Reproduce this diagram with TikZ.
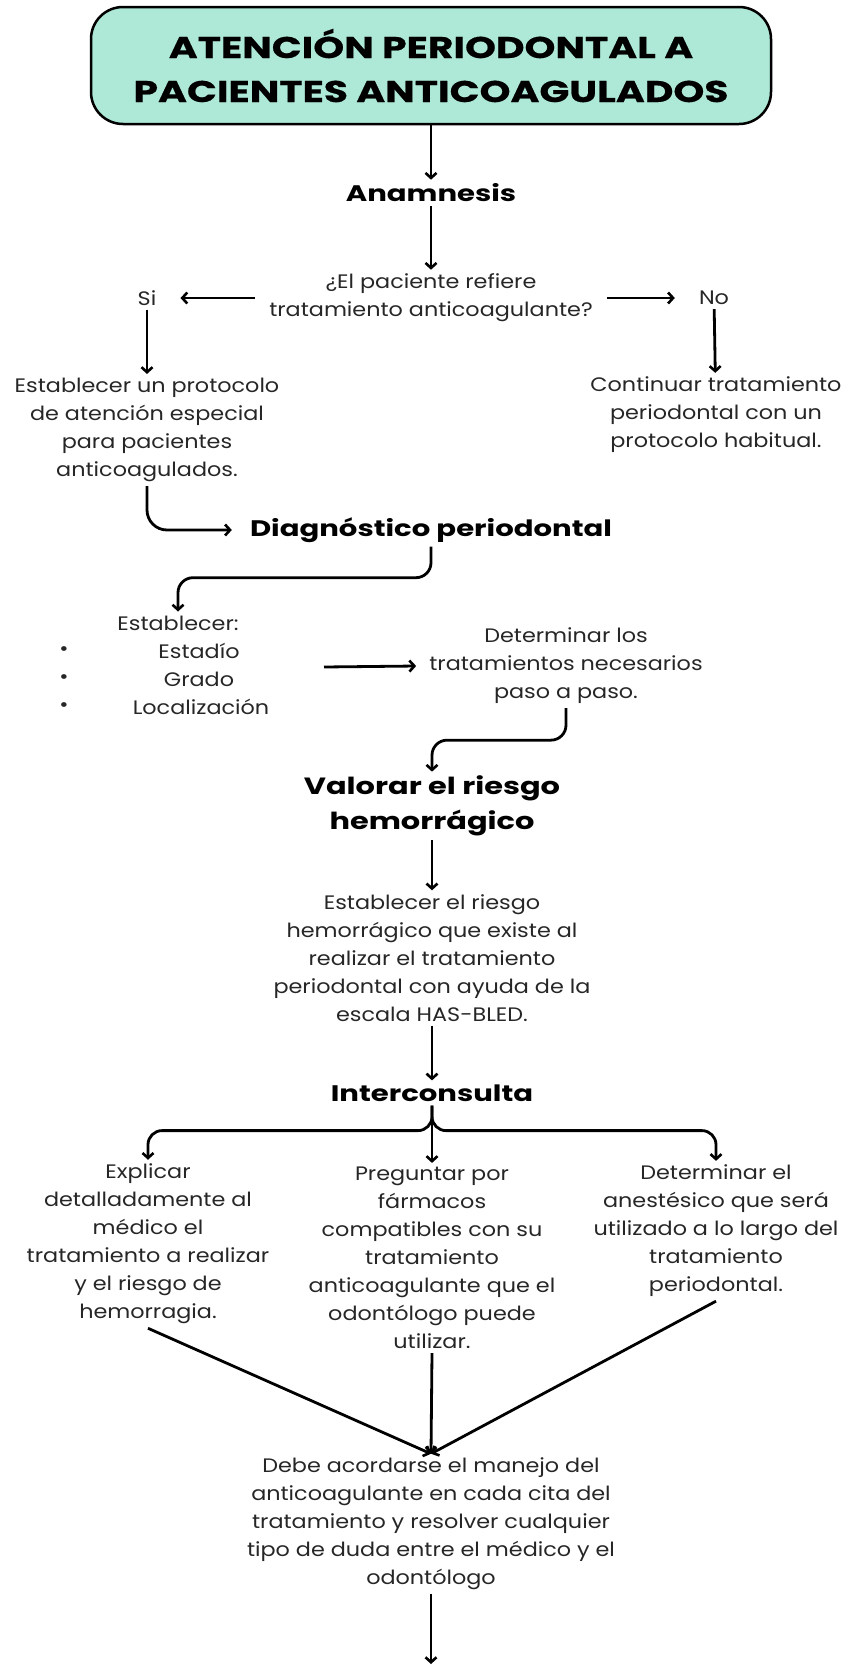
\documentclass[tikz,border=0pt]{standalone}
\usepackage{fontspec}
\usepackage{graphicx}
\setmainfont{Poppins}
\usetikzlibrary{arrows.meta}
\definecolor{mint}{HTML}{AEE9D8}
\definecolor{ink}{HTML}{262626}

% widen the faces so that a reference line gets its intended width
\newlength\natw
\settowidth\natw{\fontsize{19.5}{28}\selectfont tipo de duda entre el médico y el}
\pgfmathsetmacro\bodystretch{368/\natw}
\settowidth\natw{\fontsize{22.5}{30}\selectfont\bfseries Diagnóstico periodontal}
\pgfmathsetmacro\headstretch{362/\natw}
\settowidth\natw{\fontsize{30}{44}\selectfont\bfseries PACIENTES ANTICOAGULADOS}
\pgfmathsetmacro\titlestretch{595/\natw}
\edef\makefonts{%
  \noexpand\newfontfamily\noexpand\bodyfont{Poppins}[FakeStretch=\bodystretch]%
  \noexpand\newfontfamily\noexpand\headfont{Poppins}[FakeStretch=\headstretch]%
  \noexpand\newfontfamily\noexpand\titlefont{Poppins}[FakeStretch=\titlestretch,BoldFeatures={FakeBold=0.6}]}
\makefonts

\begin{document}
\begin{tikzpicture}[x=1pt,y=-1pt,
  arr/.style={draw=black, line width=2.8pt, -{Straight Barb[length=5pt,width=11pt,line width=2.6pt]}},
  body/.style={text=ink, align=center, inner sep=4pt, font=\bodyfont\fontsize{19.5}{28}\selectfont},
  head/.style={text=black, align=center, inner sep=4pt, font=\headfont\fontsize{22.5}{35}\selectfont\bfseries},
  titlebox/.style={draw=black, line width=2.5pt, fill=mint, rounded corners=32pt,
    minimum width=680pt, minimum height=117pt, align=center,
    font=\titlefont\fontsize{30}{44}\selectfont\bfseries}
]
\useasboundingbox (0,0) rectangle (847,1665);

% title
\node[titlebox] (title) at (431,65.5) {ATENCIÓN PERIODONTAL A\\PACIENTES ANTICOAGULADOS};

% first question
\node[head] (anam) at (431,193) {Anamnesis};
\node[body] (q) at (431,298) {¿El paciente refiere\\tratamiento anticoagulante?};
\node[body] (si) at (147,298) {Si};
\node[body] (no) at (714,298) {No};
\node[body] (est1) at (147,430) {Establecer un protocolo\\de atención especial\\para pacientes\\anticoagulados.};
\node[body] (cont) at (716,415) {Continuar tratamiento\\periodontal con un\\protocolo habitual.};

% diagnosis
\node[head] (diag) at (431,530) {Diagnóstico periodontal};
\node[body] (estab) at (178,623) {Establecer:};
\node[body] (b1) at (64,651) {\textbullet};
\node[body] (b2) at (64,679) {\textbullet};
\node[body] (b3) at (64,707) {\textbullet};
\node[body] (estadio) at (199,651) {Estadío};
\node[body] (grado) at (199,679) {Grado};
\node[body] (loc) at (201,707) {Localización};
\coordinate (listend) at (324,667);
\node[body, inner xsep=13pt] (det) at (566,666) {Determinar los\\tratamientos necesarios\\paso a paso.};

% bleeding risk
\node[head, font=\headfont\fontsize{23.5}{35}\selectfont\bfseries] (val) at (432,806) {Valorar el riesgo\\hemorrágico};
\node[body] (est2) at (432,958) {Establecer el riesgo\\hemorrágico que existe al\\realizar el tratamiento\\periodontal con ayuda de la\\escala HAS-BLED.};

% consultation
\node[head] (inter) at (432,1093) {Interconsulta};
\node[body] (c1) at (148,1244) {Explicar\\detalladamente al\\médico el\\tratamiento a realizar\\y el riesgo de\\hemorragia.};
\node[body] (c2) at (432,1258) {Preguntar por\\fármacos\\compatibles con su\\tratamiento\\anticoagulante que el\\odontólogo puede\\utilizar.};
\node[body] (c3) at (716,1231) {Determinar el\\anestésico que será\\utilizado a lo largo del\\tratamiento\\periodontal.};
\node[body] (final) at (431,1524) {Debe acordarse el manejo del\\anticoagulante en cada cita del\\tratamiento y resolver cualquier\\tipo de duda entre el médico y el\\odontólogo};
\coordinate (end) at (431,1664);

% connectors
\draw[arr] (title) -- (anam);
\draw[arr] (anam) -- (q);
\draw[arr, shorten <=10pt, shorten >=20pt] (q.west) -- (si.east |- q.west);
\draw[arr, shorten <=10pt, shorten >=20pt] (q.east) -- (no.west |- q.east);
\draw[arr] (si) -- (est1);
\draw[arr] (no) -- (cont);
\draw[arr, rounded corners=20pt, shorten >=14pt] (est1.south) |- (diag.west);
\draw[arr, rounded corners=15pt] (diag.south) -- ++(0,31) -| (estab.north);
\draw[arr] (listend) -- (det.west);
\draw[arr, rounded corners=15pt] (det.south) -- ++(0,32) -| (val.north);
\draw[arr] (val) -- (est2);
\draw[arr] (est2) -- (inter);
\draw[arr, rounded corners=14pt] (inter.south) -- ++(0,25) -| (c1.north);
\draw[arr, rounded corners=14pt] (inter.south) -- ++(0,25) -| (c3.north);
\draw[arr] (inter) -- (c2);
\draw[arr] (c1.south) -- (final.north);
\draw[arr] (c2.south) -- (final.north);
\draw[arr] (c3.south) -- (final.north);
\draw[arr] (final) -- (end);
\end{tikzpicture}
\end{document}
